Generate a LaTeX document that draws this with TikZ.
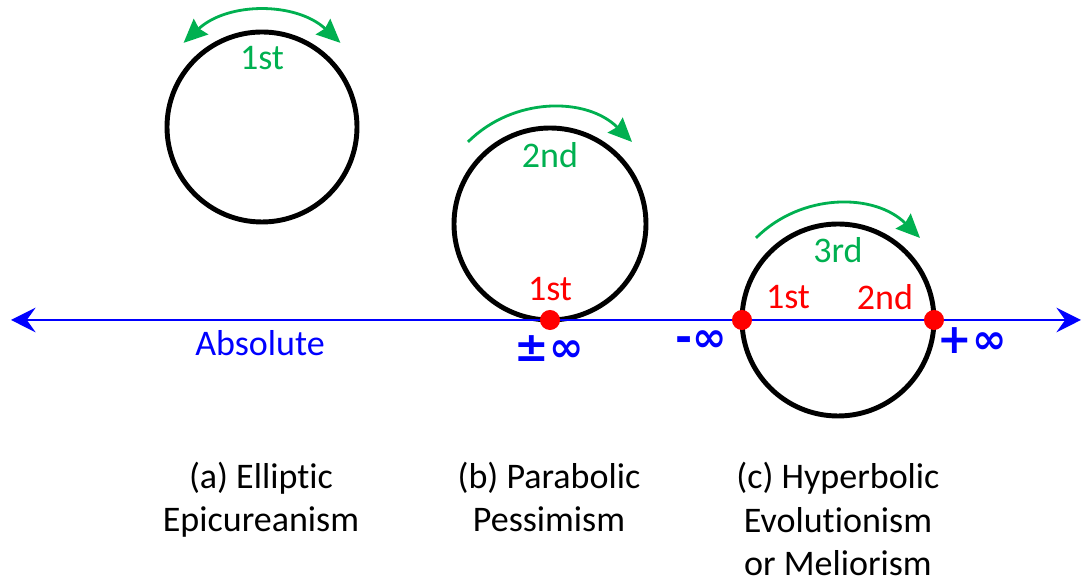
\documentclass[tikz,border=0pt]{standalone}
\usepackage{fontspec}
\setmainfont{Carlito}[Ligatures=NoCommon]
\newfontfamily\symfont{DejaVu Sans}
\usetikzlibrary{arrows.meta}
\definecolor{turngreen}{RGB}{0,176,80}
\definecolor{absblue}{RGB}{0,0,255}
\tikzset{
  orbit/.style={draw=black, line width=2.8pt},
  turn/.style={turngreen, line width=1.6pt},
  gtip/.tip={Stealth[length=13.5pt, width=12pt, inset=1.5pt]},
  btip/.tip={Stealth[length=14pt, width=14pt, inset=5pt]},
  point/.style={circle, fill=red, inner sep=0pt, minimum size=11.4pt},
  order/.style={text=red},
  turnlabel/.style={text=turngreen},
  inf/.style={text=absblue, font=\symfont\bfseries\fontsize{23.5}{28}\selectfont},
  caption/.style={align=center, anchor=base}
}
\begin{document}
\begin{tikzpicture}[x=0.02cm, y=0.02cm, font=\fontsize{20.5}{25}\selectfont]
    \useasboundingbox (0,0) rectangle (1083,584);
    % Circle centres
    \coordinate (Oa) at (262,457);
    \coordinate (Ob) at (550,360);
    \coordinate (Oc) at (838,264);
    % Ends of the absolute
    \coordinate (L) at (11,264);
    \coordinate (R) at (1081,264);

    % Circles
    \draw[orbit] (Oa) circle[radius=95];
    \draw[orbit] (Ob) circle[radius=96];
    \draw[orbit] (Oc) circle[radius=96];

    % Absolute line
    \draw[absblue, line width=1pt, btip-btip] (L) -- (R);

    % Rotation arrows
    \draw[turn, gtip-gtip] (Oa) ++(133:115) arc[start angle=133, end angle=47, radius=115];
    \draw[turn, -gtip] (Ob) ++(135:116) arc[start angle=135, end angle=45, radius=116];
    \draw[turn, -gtip] (Oc) ++(135:116) arc[start angle=135, end angle=45, radius=116];

    % Fixed points
    \node[point] (Pb) at (550,264) {};
    \node[point] (Pl) at (742,264) {};
    \node[point] (Pr) at (934,264) {};

    % Labels
    \node[turnlabel] (ga) at (262,526) {1st};
    \node[turnlabel] (gb) at (550,429) {2nd};
    \node[turnlabel] (gc) at (838,334) {3rd};
    \node[order] (rb) at (550,295) {1st};
    \node[order] (rl) at (788,287) {1st};
    \node[order] (rr) at (885,287) {2nd};
    \node[inf] (ib) at (549,235) {±∞};
    \node[inf] (il) at (701,243) {-∞};
    \node[inf] (ir) at (972,243) {+∞};
    \node[text=absblue] (abs) at (260,241) {Absolute};

    % Captions (base is the last line)
    \node[caption] (ca) at (261,52) {(a) Elliptic\\Epicureanism};
    \node[caption] (cb) at (549,52) {(b) Parabolic\\Pessimism};
    \node[caption] (cc) at (838,8) {(c) Hyperbolic\\Evolutionism\\or Meliorism};
\end{tikzpicture}
\end{document}
